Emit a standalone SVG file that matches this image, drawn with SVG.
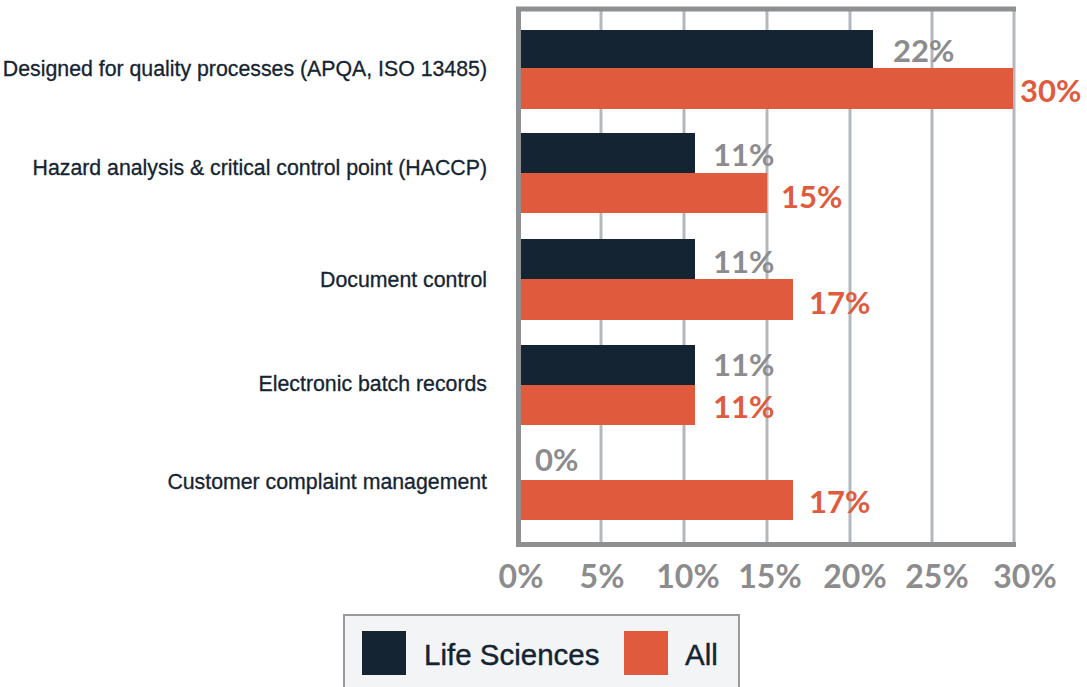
<svg xmlns="http://www.w3.org/2000/svg" width="1087" height="687" viewBox="0 0 1087 687">
<style>
.grid{stroke:#b3b8bd;stroke-width:3}
.frame{fill:none;stroke:#8e8f91;stroke-width:5}
.ls{fill:#142432}
.all{fill:#e05b3d}
.cat{font-family:"Liberation Sans",Arial,sans-serif;font-size:21.3px;fill:#142432;stroke:#142432;stroke-width:0.3;text-anchor:end}
.vg{font-family:"Lato","Liberation Sans",sans-serif;font-weight:bold;font-size:31px;fill:#8c8c8e}
.vo{font-family:"Lato","Liberation Sans",sans-serif;font-weight:bold;font-size:31px;fill:#e05b3d}
.ax{font-family:"Lato","Liberation Sans",sans-serif;font-weight:bold;font-size:32px;fill:#8c8c8e;text-anchor:middle}
.leg{font-family:"Liberation Sans",Arial,sans-serif;font-size:29.5px;fill:#142432;stroke:#142432;stroke-width:0.4}
</style>
<rect width="1087" height="687" fill="#ffffff"/>
<g id="grid">
<line class="grid" x1="601" y1="10" x2="601" y2="544"/>
<line class="grid" x1="684" y1="10" x2="684" y2="544"/>
<line class="grid" x1="767" y1="10" x2="767" y2="544"/>
<line class="grid" x1="850" y1="10" x2="850" y2="544"/>
<line class="grid" x1="932" y1="10" x2="932" y2="544"/>
<line class="grid" x1="1014" y1="10" x2="1014" y2="544"/>
</g>
<g id="bars">
<rect class="ls" x="521" y="30" width="352" height="38"/>
<rect class="all" x="521" y="68" width="492" height="41"/>
<rect class="ls" x="521" y="133" width="174" height="40"/>
<rect class="all" x="521" y="173" width="246" height="40"/>
<rect class="ls" x="521" y="239" width="174" height="40"/>
<rect class="all" x="521" y="279" width="272" height="41"/>
<rect class="ls" x="521" y="345" width="174" height="40"/>
<rect class="all" x="521" y="385" width="174" height="40"/>
<rect class="all" x="521" y="480" width="272" height="40"/>
</g>
<path class="frame" d="M1016 9 H518.5 V544.5 H1016"/>
<g id="values">
<text class="vg" x="893" y="62">22%</text>
<text class="vo" x="1020" y="102">30%</text>
<text class="vg" x="713" y="166">11%</text>
<text class="vo" x="781" y="208">15%</text>
<text class="vg" x="713" y="273">11%</text>
<text class="vo" x="809" y="314">17%</text>
<text class="vg" x="713" y="376">11%</text>
<text class="vo" x="713" y="418">11%</text>
<text class="vg" x="535" y="471">0%</text>
<text class="vo" x="809" y="513">17%</text>
</g>
<g id="categories">
<text class="cat" x="487" y="76">Designed for quality processes (APQA, ISO 13485)</text>
<text class="cat" x="487" y="175">Hazard analysis &amp; critical control point (HACCP)</text>
<text class="cat" x="487" y="287">Document control</text>
<text class="cat" x="487" y="391">Electronic batch records</text>
<text class="cat" x="487" y="489">Customer complaint management</text>
</g>
<g id="axis">
<text class="ax" x="521" y="588">0%</text>
<text class="ax" x="602" y="588">5%</text>
<text class="ax" x="688" y="588">10%</text>
<text class="ax" x="770" y="588">15%</text>
<text class="ax" x="855" y="588">20%</text>
<text class="ax" x="937" y="588">25%</text>
<text class="ax" x="1025" y="588">30%</text>
</g>
<g id="legend">
<rect x="344" y="615" width="395" height="80" fill="#f3f4f6" stroke="#9a9a9c" stroke-width="2"/>
<rect class="ls" x="362" y="631" width="44" height="44"/>
<text class="leg" x="424" y="665">Life Sciences</text>
<rect class="all" x="624" y="631" width="44" height="44"/>
<text class="leg" x="685" y="665">All</text>
</g>
</svg>
